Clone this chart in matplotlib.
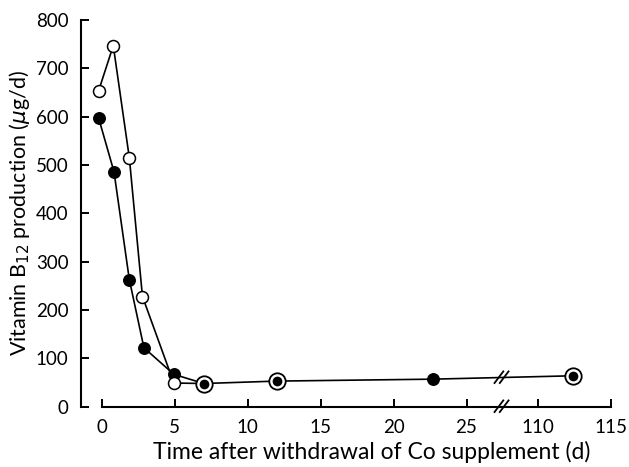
import matplotlib
matplotlib.use("Agg")

import matplotlib.pyplot as plt
import numpy as np

plt.rcParams.update({"font.family": ["Lato", "DejaVu Sans"], "font.size": 13})

# broken x axis: 0-27 kept, 108-115 moved left next to it
GAP = 80.1
BREAK = 27.4


def fwd(x):
    x = np.asarray(x, dtype=float)
    return np.where(x > 60, x - GAP, x)


def inv(x):
    x = np.asarray(x, dtype=float)
    return np.where(x > BREAK, x + GAP, x)


filled_x = [-0.2, 0.85, 1.9, 2.9, 4.95, 7.0, 12.0, 22.7, 112.4]
filled_y = [597, 486, 263, 122, 67, 48, 53, 57, 64]
open_x = [-0.2, 0.8, 1.9, 2.8, 4.95, 7.0, 12.0, 112.4]
open_y = [654, 747, 515, 228, 49, 48, 53, 64]
both_x = [7.0, 12.0, 112.4]
both_y = [48, 53, 64]

xticks = [0, 5, 10, 15, 20, 25, 110, 115]
yticks = [0, 100, 200, 300, 400, 500, 600, 700, 800]

fig = plt.figure(figsize=(6.29, 4.67), dpi=100)
ax = fig.add_axes([0.1288, 0.1291, 0.8426, 0.828])
ax.set_xscale("function", functions=(fwd, inv))

ax.plot(open_x[:6], open_y[:6], "-", color="black", lw=1.2, zorder=2)
ax.plot(filled_x, filled_y, "-", color="black", lw=1.2, zorder=2)

ax.plot(open_x[:5], open_y[:5], "o", ms=8.6, mfc="white", mec="black", mew=1.1,
        ls="none", zorder=4, clip_on=False)
ax.plot(filled_x[:5], filled_y[:5], "o", ms=8.3, mfc="black", mec="black", mew=1.0,
        ls="none", zorder=3, clip_on=False)
ax.plot(both_x, both_y, "o", ms=11.8, mfc="white", mec="black", mew=1.3,
        ls="none", zorder=5, clip_on=False)
ax.plot(both_x, both_y, "o", ms=7.0, mfc="black", mec="black", mew=0,
        ls="none", zorder=6, clip_on=False)
ax.plot(filled_x[7:8], filled_y[7:8], "o", ms=8.3, mfc="black", mec="black",
        ls="none", zorder=3)

# break marks on axis and on the line
for yb in (0, 60):
    for dx in (-0.18, 0.18):
        ax.plot([BREAK + dx - 0.3, BREAK + dx + 0.3], [yb - 11, yb + 13],
                color="black", lw=1.3, zorder=7, clip_on=False)

ax.set_xlim(-1.41, 115)
ax.set_ylim(0, 800)
ax.set_xticks(xticks)
ax.set_xticklabels([str(t) for t in xticks])
ax.set_yticks(yticks)
ax.set_yticklabels([str(t) for t in yticks])

ax.spines["top"].set_visible(False)
ax.spines["right"].set_visible(False)
ax.spines["left"].set_linewidth(1.5)
ax.spines["bottom"].set_linewidth(1.5)
ax.spines["bottom"].set_bounds(0, 115)
ax.tick_params(direction="in", length=5.8, width=1.4, pad=9, labelsize=13.5)

ax.set_xlabel("Time after withdrawal of Co supplement (d)", fontsize=16.5)
ax.xaxis.set_label_coords(0.549, -0.088)
ax.set_ylabel("Vitamin B$_{12}$ production ($\\mu$g/d)", fontsize=15.5, labelpad=3)

fig.savefig("out.png", dpi=100)
